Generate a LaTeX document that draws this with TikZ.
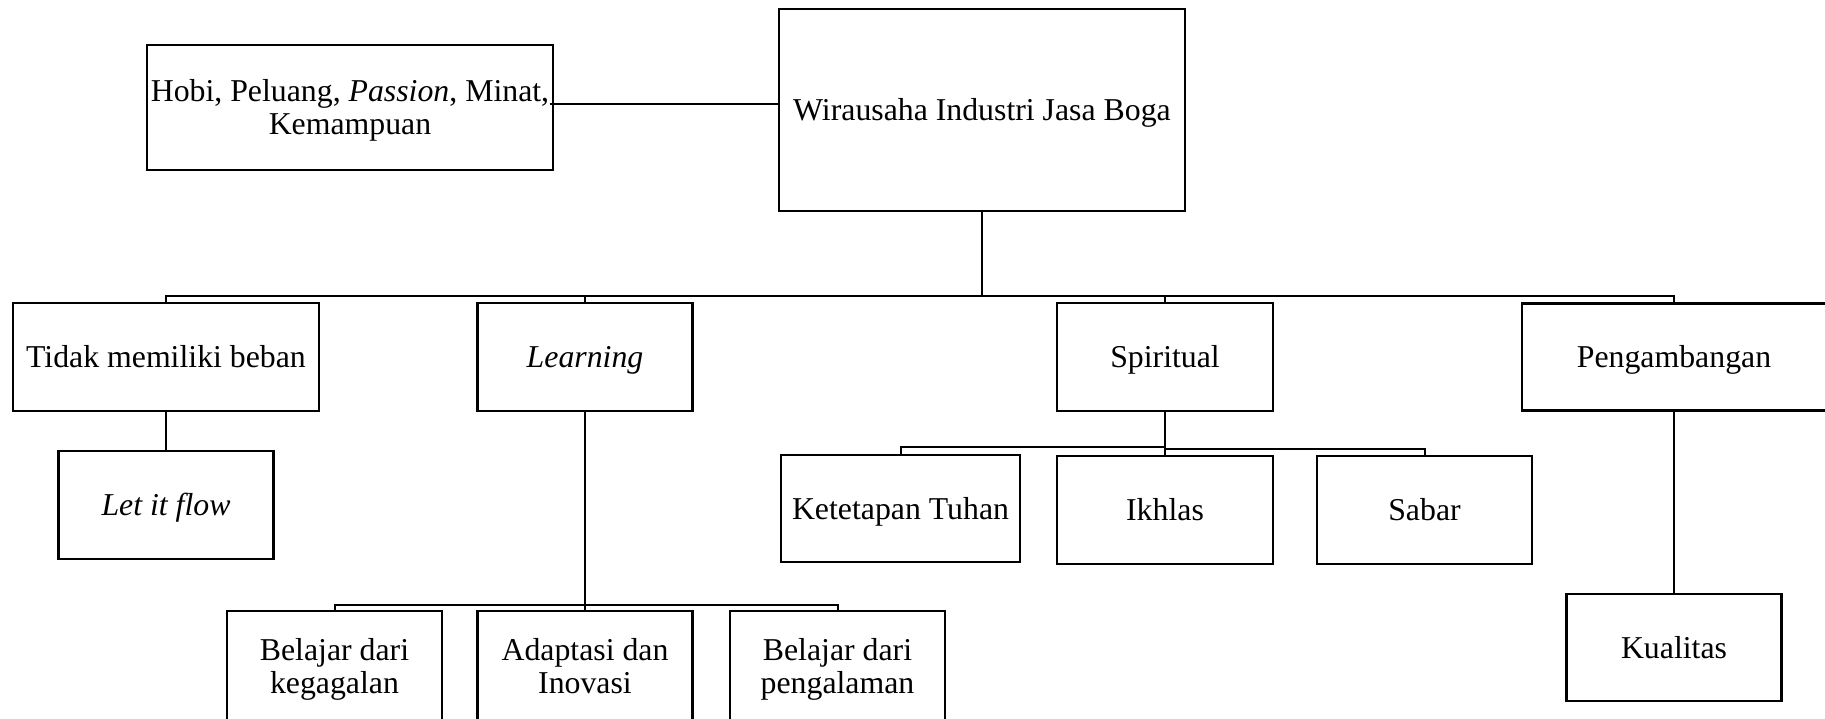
\documentclass[tikz,border=0pt]{standalone}
\usepackage{fontspec}
\setmainfont{Liberation Serif}
\usetikzlibrary{calc}
\begin{document}
\begin{tikzpicture}[x=0.5pt,y=-0.5pt,
  box/.style={draw, line width=1.3pt, rectangle, inner sep=0pt, align=center,
    font=\fontsize{15.9}{16.5}\selectfont, text height=10.5pt, text depth=0pt},
  twoline/.style={text height=27pt, text depth=0pt},
  link/.style={line width=1pt}]
\useasboundingbox (0,0) rectangle (1825,718);

% top level
\node[box, minimum width=203pt, minimum height=101pt] (main) at (982,110) {Wirausaha Industri Jasa Boga};
\node[box, twoline, minimum width=203pt, minimum height=62.5pt] (hobi) at (350,107.5) {Hobi, Peluang, \textit{Passion}, Minat,\\Kemampuan};

% second level
\node[box, minimum width=153pt, minimum height=54pt] (tidak) at (166,357) {Tidak memiliki beban};
\node[box, minimum width=107.5pt, minimum height=54pt] (learn) at (585,357) {\textit{Learning}};
\node[box, minimum width=108pt, minimum height=54pt] (spir) at (1165,357) {Spiritual};
\node[box, minimum width=152pt, minimum height=53.5pt] (peng) at (1674,357) {Pengambangan};

% third level
\node[box, minimum width=107.5pt, minimum height=54pt] (flow) at (166,505) {\textit{Let it flow}};
\node[box, twoline, minimum width=107.5pt, minimum height=55.5pt] (bk) at (334.5,666.5) {Belajar dari\\kegagalan};
\node[box, twoline, minimum width=107.5pt, minimum height=55.5pt] (ai) at (585,666.5) {Adaptasi dan\\Inovasi};
\node[box, twoline, minimum width=107.5pt, minimum height=55.5pt] (bp) at (837.5,666.5) {Belajar dari\\pengalaman};
\node[box, minimum width=119.5pt, minimum height=53.5pt] (ket) at (900.5,508.5) {Ketetapan Tuhan};
\node[box, minimum width=108pt, minimum height=54pt] (ikh) at (1165,510) {Ikhlas};
\node[box, minimum width=107.5pt, minimum height=54pt] (sab) at (1424.5,510) {Sabar};
\node[box, minimum width=107.5pt, minimum height=53.5pt] (kual) at (1674,647.5) {Kualitas};

% bus heights
\coordinate (busA) at (0,296);
\coordinate (busB) at (0,605);
\coordinate (busC) at (0,447);
\coordinate (busD) at (0,449);

% connectors
\draw[link] ($(hobi.east)+(-4,-3.5)$) coordinate (h1) -- (h1 -| main.west);
\draw[link] (main.south) -- (main.south |- busA);
\draw[link] (tidak.north) -- (tidak.north |- busA) -- (peng.north |- busA) -- (peng.north);
\draw[link] (learn.north) -- (learn.north |- busA);
\draw[link] (spir.north) -- (spir.north |- busA);

\draw[link] (tidak.south) -- (flow.north);

\draw[link] (learn.south) -- (learn.south |- busB);
\draw[link] (bk.north) -- (bk.north |- busB) -- (bp.north |- busB) -- (bp.north);
\draw[link] (ai.north) -- (ai.north |- busB);

\draw[link] (spir.south) -- (ikh.north);
\draw[link] (ket.north) -- (ket.north |- busC) -- (spir.south |- busC);
\draw[link] (spir.south |- busD) -- (sab.north |- busD) -- (sab.north);

\draw[link] (peng.south) -- (kual.north);
\end{tikzpicture}
\end{document}
